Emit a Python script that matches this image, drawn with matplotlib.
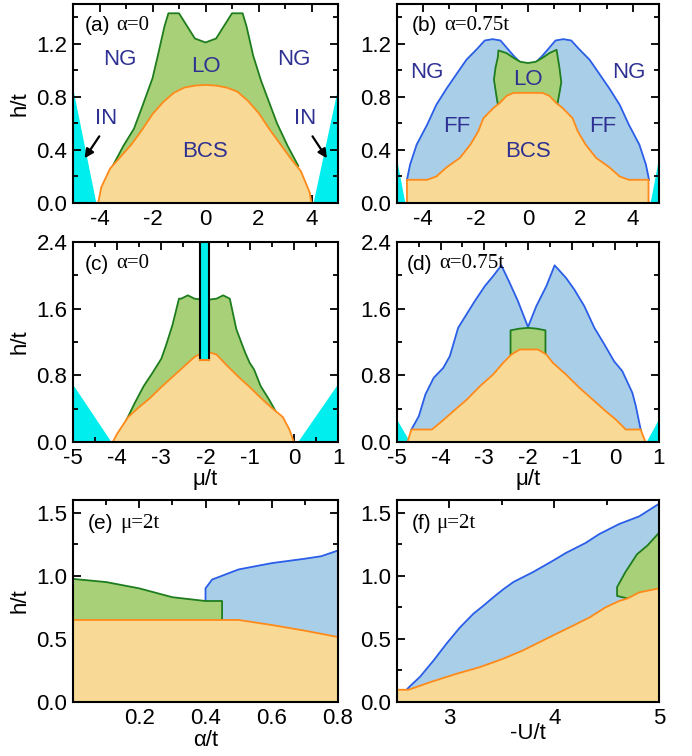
import matplotlib.pyplot as plt
from matplotlib.ticker import FixedLocator

plt.rcParams['font.family'] = ['Liberation Sans', 'DejaVu Sans']
plt.rcParams['axes.unicode_minus'] = False

CYAN = '#00eeee'
GREEN_FILL = '#a8d078'
GREEN_LINE = '#1e7d1e'
ORANGE_FILL = '#f8d995'
ORANGE_LINE = '#ff8a1a'
BLUE_FILL = '#a9cfe8'
BLUE_LINE = '#2a5ee8'
NAVY = '#2e3192'

# ---- (a) alpha = 0 ----
a_in_left_x = [-5.0, -4.12]
a_in_left_y = [0.87, 0.0]
a_in_right_x = [4.08, 5.0]
a_in_right_y = [0.0, 0.86]
a_lo_x = [-3.5, -3.1, -2.7, -2.4, -2.0, -1.8, -1.55, -1.4, -1.0, -0.4, 0.0,
          0.4, 1.0, 1.4, 1.55, 1.8, 2.1, 2.4, 2.7, 3.1, 3.5]
a_lo_y = [0.28, 0.43, 0.56, 0.72, 0.94, 1.11, 1.33, 1.43, 1.43, 1.24, 1.21,
          1.24, 1.43, 1.43, 1.33, 1.11, 0.92, 0.76, 0.6, 0.43, 0.28]
a_bcs_x = [-4.05, -3.93, -3.6, -3.2, -2.8, -2.4, -2.0, -1.6, -1.2, -0.8, -0.4, 0.0,
           0.4, 0.8, 1.2, 1.6, 2.0, 2.4, 2.8, 3.2, 3.6, 3.93, 4.0]
a_bcs_y = [0.0, 0.12, 0.26, 0.35, 0.44, 0.55, 0.67, 0.76, 0.83, 0.87, 0.885, 0.89,
           0.885, 0.87, 0.84, 0.77, 0.68, 0.56, 0.45, 0.34, 0.24, 0.08, 0.0]

# ---- (b) alpha = 0.75t ----
b_in_left_x = [-5.0, -4.68]
b_in_left_y = [0.33, 0.0]
b_in_right_x = [4.68, 5.0]
b_in_right_y = [0.0, 0.33]
b_ff_x = [-4.62, -4.5, -4.25, -3.85, -3.5, -3.1, -2.7, -2.35, -1.95, -1.65, -1.35,
          -1.05, -0.55, 0.0, 0.55, 1.05, 1.35, 1.65, 1.95, 2.35, 2.7, 3.1, 3.5,
          3.85, 4.25, 4.5, 4.62]
b_ff_y = [0.175, 0.29, 0.44, 0.59, 0.74, 0.865, 0.98, 1.08, 1.16, 1.225, 1.235,
          1.225, 1.11, 1.0, 1.11, 1.225, 1.235, 1.225, 1.16, 1.08, 0.98, 0.865, 0.74,
          0.59, 0.44, 0.29, 0.175]
b_lo_x = [-1.13, -1.2, -1.3, -1.24, -1.15, -1.13, -0.82, -0.56, -0.3, 0.0, 0.3, 0.56,
          0.82, 1.09, 1.2, 1.27, 1.21, 1.1, -1.13]
b_lo_y = [0.72, 0.8, 0.93, 1.02, 1.1, 1.15, 1.13, 1.095, 1.065, 1.055, 1.065, 1.095,
          1.13, 1.155, 1.02, 0.91, 0.84, 0.72, 0.72]
b_bcs_x = [-4.62, -4.62, -3.85, -3.5, -3.1, -2.6, -2.2, -1.9, -1.7, -1.3, -1.1, -0.8,
           -0.55, 0.55, 0.8, 1.1, 1.3, 1.7, 1.9, 2.2, 2.6, 3.1, 3.5, 3.85, 4.6, 4.6]
b_bcs_y = [0.0, 0.175, 0.175, 0.2, 0.27, 0.34, 0.44, 0.54, 0.64, 0.72, 0.75, 0.81,
           0.83, 0.83, 0.81, 0.75, 0.72, 0.64, 0.54, 0.44, 0.34, 0.27, 0.2, 0.175,
           0.175, 0.0]

# ---- (c) alpha = 0 ----
c_in_left_x = [-5.0, -4.13]
c_in_left_y = [0.69, 0.0]
c_in_right_x = [0.1, 1.0]
c_in_right_y = [0.0, 0.69]
c_bar_x = [-2.12, -1.93]
c_bar_y = [0.99, 2.4]
c_lo_x = [-3.85, -3.6, -3.4, -3.2, -3.0, -2.9, -2.75, -2.6, -2.55, -2.4, -2.25, -2.1,
          -1.9, -1.75, -1.6, -1.45, -1.3, -1.1, -1.0, -0.9, -0.75, -0.55, -0.35, -0.15]
c_lo_y = [0.2, 0.47, 0.67, 0.83, 1.0, 1.15, 1.4, 1.72, 1.72, 1.76, 1.72, 1.71,
          1.71, 1.72, 1.76, 1.72, 1.35, 1.07, 0.95, 0.87, 0.67, 0.5, 0.31, 0.12]
c_bcs_x = [-4.1, -4.0, -3.75, -3.5, -3.25, -3.0, -2.75, -2.5, -2.25, -2.0, -1.75,
           -1.5, -1.25, -1.0, -0.75, -0.5, -0.25, -0.1, 0.0]
c_bcs_y = [0.0, 0.1, 0.3, 0.42, 0.53, 0.66, 0.78, 0.9, 1.02, 1.09, 1.05,
           0.91, 0.78, 0.66, 0.53, 0.41, 0.3, 0.15, 0.0]

# ---- (d) alpha = 0.75t ----
d_in_left_x = [-5.0, -4.7]
d_in_left_y = [0.27, 0.0]
d_in_right_x = [0.72, 1.0]
d_in_right_y = [0.0, 0.27]
d_ff_x = [-4.67, -4.5, -4.35, -4.16, -3.94, -3.79, -3.6, -3.41, -3.22, -2.99, -2.8,
          -2.61, -2.42, -2.23, -2.0, -1.81, -1.58, -1.39, -1.13, -0.94, -0.71, -0.48,
          -0.25, -0.03, 0.16, 0.39, 0.47, 0.58]
d_ff_y = [0.15, 0.31, 0.57, 0.77, 0.89, 1.03, 1.37, 1.53, 1.69, 1.87, 1.99,
          2.12, 1.91, 1.69, 1.38, 1.63, 1.87, 2.12, 1.97, 1.83, 1.63, 1.37,
          1.17, 0.97, 0.85, 0.59, 0.43, 0.15]
d_lo_x = [-2.4, -2.4, -2.2, -2.0, -1.8, -1.6, -1.6, -2.4]
d_lo_y = [1.0, 1.34, 1.36, 1.37, 1.36, 1.34, 1.0, 1.0]
d_bcs_x = [-4.76, -4.67, -4.2, -3.97, -3.71, -3.4, -3.1, -2.8, -2.57, -2.38, -2.19,
           -1.77, -1.58, -1.43, -1.13, -0.82, -0.52, -0.22, 0.01, 0.24, 0.58, 0.69]
d_bcs_y = [0.0, 0.15, 0.15, 0.25, 0.37, 0.51, 0.67, 0.81, 0.95, 1.05, 1.11,
           1.11, 1.05, 0.95, 0.81, 0.65, 0.51, 0.37, 0.27, 0.15, 0.15, 0.0]

# ---- (e) mu = 2t, vs alpha ----
e_ff_x = [0.4, 0.4, 0.42, 0.45, 0.5, 0.6, 0.7, 0.75, 0.8]
e_ff_y = [0.8, 0.9, 0.97, 1.0, 1.05, 1.1, 1.135, 1.155, 1.2]
e_lo_x = [0.0, 0.1, 0.2, 0.3, 0.4, 0.45, 0.45]
e_lo_y = [0.975, 0.95, 0.9, 0.83, 0.8, 0.8, 0.65]
e_bcs_x = [0.0, 0.5, 0.6, 0.7, 0.8]
e_bcs_y = [0.65, 0.65, 0.61, 0.565, 0.515]

# ---- (f) mu = 2t, vs -U ----
f_ff_x = [2.6, 2.63, 2.72, 2.85, 2.97, 3.1, 3.23, 3.32, 3.42, 3.51, 3.61, 3.8, 3.99,
          4.11, 4.3, 4.43, 4.62, 4.81, 5.0]
f_ff_y = [0.105, 0.13, 0.2, 0.33, 0.46, 0.59, 0.7, 0.76, 0.83, 0.89, 0.95, 1.03, 1.12,
          1.18, 1.26, 1.33, 1.41, 1.47, 1.57]
f_lo_x = [4.7, 4.6, 4.6, 4.68, 4.79, 4.89, 5.0, 5.0]
f_lo_y = [0.82, 0.84, 0.91, 1.03, 1.17, 1.24, 1.34, 0.9]
f_bcs_x = [2.5, 2.61, 2.82, 3.07, 3.29, 3.51, 3.7, 3.86, 4.02, 4.18, 4.34, 4.49,
           4.62, 4.7, 4.81, 5.0]
f_bcs_y = [0.097, 0.097, 0.158, 0.224, 0.276, 0.342, 0.408, 0.474, 0.54, 0.605,
           0.671, 0.75, 0.8, 0.82, 0.868, 0.9]


def style(ax, xlim, ylim, xmaj, xmin, ymaj, ymin):
    ax.set_xlim(*xlim)
    ax.set_ylim(*ylim)
    ax.xaxis.set_major_locator(FixedLocator(xmaj))
    ax.xaxis.set_minor_locator(FixedLocator(xmin))
    ax.yaxis.set_major_locator(FixedLocator(ymaj))
    ax.yaxis.set_minor_locator(FixedLocator(ymin))
    ax.set_yticklabels(['{:.1f}'.format(v) for v in ymaj])
    ax.tick_params(which='both', direction='in', top=True, right=True,
                   labelsize=16, width=1.3, pad=4)
    ax.tick_params(which='major', length=6)
    ax.tick_params(which='minor', length=3.5)
    for s in ax.spines.values():
        s.set_linewidth(1.5)
        s.set_zorder(20)


# each region drawn as one layer: fill then its border, next layer on top
def fill_curve(ax, x, y, face, edge, z):
    ax.fill_between(x, 0, y, facecolor=face, edgecolor='none', zorder=z)
    ax.plot(x, y, color=edge, lw=1.3, zorder=z + 0.5)


def fill_poly(ax, x, y, face, edge, z):
    ax.fill(x, y, facecolor=face, edgecolor='none', zorder=z)
    ax.plot(x, y, color=edge, lw=1.3, zorder=z + 0.5)


def cyan(ax, x1, y1, x2, y2):
    ax.fill_between(x1, 0, y1, facecolor=CYAN, edgecolor='none', zorder=1)
    ax.fill_between(x2, 0, y2, facecolor=CYAN, edgecolor='none', zorder=1)


def panel_label(ax, tag, rest, x0, x1, y=0.89, size=15):
    ax.text(x0, y, tag, transform=ax.transAxes, fontsize=size, va='center', zorder=10)
    ax.text(x1, y, rest, transform=ax.transAxes, fontsize=size, va='center', zorder=10,
            family=['Liberation Serif', 'DejaVu Serif'])


def region(ax, x, y, s):
    ax.text(x, y, s, color=NAVY, fontsize=16, ha='center', va='center', zorder=10)


fig = plt.figure(figsize=(6.92, 7.56), dpi=100)
W, H = 692, 756


def add_ax(l, t, r, b):
    return fig.add_axes([l / W, 1 - b / H, (r - l) / W, (b - t) / H])


ax_a = add_ax(73, 4, 338, 203)
ax_b = add_ax(397, 4, 659, 203)
ax_c = add_ax(73, 242, 338, 442)
ax_d = add_ax(397, 242, 659, 442)
ax_e = add_ax(73, 500, 338, 702)
ax_f = add_ax(397, 500, 659, 702)

# (a)
ax = ax_a
cyan(ax, a_in_left_x, a_in_left_y, a_in_right_x, a_in_right_y)
fill_curve(ax, a_lo_x, a_lo_y, GREEN_FILL, GREEN_LINE, 3)
fill_curve(ax, a_bcs_x, a_bcs_y, ORANGE_FILL, ORANGE_LINE, 4)
style(ax, (-5, 5), (0, 1.5), [-4, -2, 0, 2, 4], [-5, -3, -1, 1, 3, 5],
      [0, 0.4, 0.8, 1.2], [0.2, 0.6, 1.0, 1.4])
ax.set_ylabel('h/t', fontsize=16, labelpad=4)
region(ax, -3.25, 1.08, 'NG')
region(ax, 3.35, 1.08, 'NG')
region(ax, 0.0, 1.03, 'LO')
region(ax, 0.0, 0.39, 'BCS')
region(ax, -3.75, 0.64, 'IN')
region(ax, 3.75, 0.64, 'IN')
for tail, tip in [((-3.95, 0.52), (-4.62, 0.32)), ((3.98, 0.52), (4.64, 0.32))]:
    ax.annotate('', xy=tip, xytext=tail, zorder=11,
                arrowprops=dict(arrowstyle='-|>', color='black', lw=1.6,
                                mutation_scale=13))
panel_label(ax, '(a)', '\u03b1=0', 0.045, 0.165)

# (b)
ax = ax_b
cyan(ax, b_in_left_x, b_in_left_y, b_in_right_x, b_in_right_y)
fill_curve(ax, b_ff_x, b_ff_y, BLUE_FILL, BLUE_LINE, 2)
fill_poly(ax, b_lo_x, b_lo_y, GREEN_FILL, GREEN_LINE, 3)
fill_curve(ax, b_bcs_x, b_bcs_y, ORANGE_FILL, ORANGE_LINE, 4)
style(ax, (-5, 5), (0, 1.5), [-4, -2, 0, 2, 4], [-5, -3, -1, 1, 3, 5],
      [0, 0.4, 0.8, 1.2], [0.2, 0.6, 1.0, 1.4])
region(ax, -3.85, 0.98, 'NG')
region(ax, 3.85, 0.98, 'NG')
region(ax, -2.72, 0.58, 'FF')
region(ax, 2.85, 0.58, 'FF')
region(ax, 0.0, 0.93, 'LO')
region(ax, 0.0, 0.39, 'BCS')
panel_label(ax, '(b)', '\u03b1=0.75t', 0.055, 0.18)

# (c)
ax = ax_c
cyan(ax, c_in_left_x, c_in_left_y, c_in_right_x, c_in_right_y)
fill_curve(ax, c_lo_x, c_lo_y, GREEN_FILL, GREEN_LINE, 3)
fill_curve(ax, c_bcs_x, c_bcs_y, ORANGE_FILL, ORANGE_LINE, 4)
ax.fill_between(c_bar_x, c_bar_y[0], c_bar_y[1], facecolor=CYAN,
                edgecolor='none', zorder=6)
ax.plot([c_bar_x[0], c_bar_x[0]], c_bar_y, color='black', lw=1.5, zorder=7)
ax.plot([c_bar_x[1], c_bar_x[1]], c_bar_y, color='black', lw=1.5, zorder=7)
ax.plot(c_bar_x, [c_bar_y[0], c_bar_y[0]], color=ORANGE_LINE, lw=1.5, zorder=7)
style(ax, (-5, 1), (0, 2.4), [-5, -4, -3, -2, -1, 0, 1],
      [-4.5, -3.5, -2.5, -1.5, -0.5, 0.5], [0, 0.8, 1.6, 2.4], [0.4, 1.2, 2.0])
ax.set_ylabel('h/t', fontsize=16, labelpad=4)
ax.set_xlabel('\u03bc/t', fontsize=16, labelpad=0)
panel_label(ax, '(c)', '\u03b1=0', 0.045, 0.165)

# (d)
ax = ax_d
cyan(ax, d_in_left_x, d_in_left_y, d_in_right_x, d_in_right_y)
fill_curve(ax, d_ff_x, d_ff_y, BLUE_FILL, BLUE_LINE, 2)
fill_poly(ax, d_lo_x, d_lo_y, GREEN_FILL, GREEN_LINE, 3)
fill_curve(ax, d_bcs_x, d_bcs_y, ORANGE_FILL, ORANGE_LINE, 4)
style(ax, (-5, 1), (0, 2.4), [-5, -4, -3, -2, -1, 0, 1],
      [-4.5, -3.5, -2.5, -1.5, -0.5, 0.5], [0, 0.8, 1.6, 2.4], [0.4, 1.2, 2.0])
ax.set_xlabel('\u03bc/t', fontsize=16, labelpad=0)
panel_label(ax, '(d)', '\u03b1=0.75t', 0.038, 0.16)

# (e)
ax = ax_e
fill_curve(ax, e_ff_x, e_ff_y, BLUE_FILL, BLUE_LINE, 2)
fill_curve(ax, e_lo_x, e_lo_y, GREEN_FILL, GREEN_LINE, 3)
fill_curve(ax, e_bcs_x, e_bcs_y, ORANGE_FILL, ORANGE_LINE, 4)
style(ax, (0, 0.8), (0, 1.6), [0.2, 0.4, 0.6, 0.8], [0.1, 0.3, 0.5, 0.7],
      [0, 0.5, 1.0, 1.5], [0.25, 0.75, 1.25])
ax.set_xticklabels(['0.2', '0.4', '0.6', '0.8'])
ax.set_ylabel('h/t', fontsize=16, labelpad=4)
ax.set_xlabel('\u03b1/t', fontsize=16, labelpad=1)
panel_label(ax, '(e)', '\u03bc=2t', 0.055, 0.18, y=0.886)

# (f)
ax = ax_f
fill_curve(ax, f_ff_x, f_ff_y, BLUE_FILL, BLUE_LINE, 2)
fill_poly(ax, f_lo_x, f_lo_y, GREEN_FILL, GREEN_LINE, 3)
fill_curve(ax, f_bcs_x, f_bcs_y, ORANGE_FILL, ORANGE_LINE, 4)
style(ax, (2.5, 5), (0, 1.6), [3, 4, 5], [2.5, 3.5, 4.5],
      [0, 0.5, 1.0, 1.5], [0.25, 0.75, 1.25])
ax.set_xlabel('-U/t', fontsize=16, labelpad=-4)
panel_label(ax, '(f)', '\u03bc=2t', 0.055, 0.15, y=0.886)

fig.savefig('out.png', dpi=100)
